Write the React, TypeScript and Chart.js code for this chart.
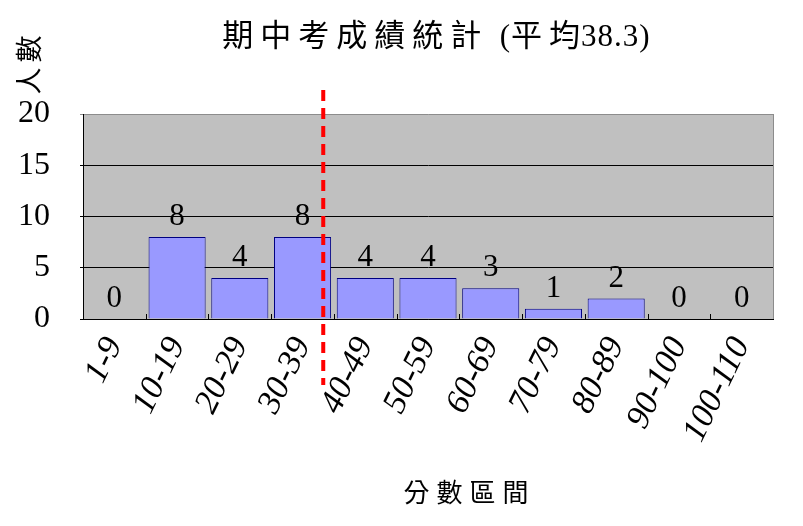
import React, { useEffect, useRef } from "react";
import { Chart, registerables } from "chart.js";

Chart.register(...registerables);

const categories = ["1-9", "10-19", "20-29", "30-39", "40-49", "50-59", "60-69", "70-79", "80-89", "90-100", "100-110"];
const counts = [0, 8, 4, 8, 4, 4, 3, 1, 2, 0, 0];
const yMin = 0;
const yMax = 20;
const yStep = 5;
const meanScore = 38.3;
const binSize = 10;
const titleParts = [
  { text: "期中考成績統計", cjk: true },
  { text: "  (", cjk: false },
  { text: "平均", cjk: true },
  { text: "38.3)", cjk: false },
];
const yTitle = "人數";
const xTitle = "分數區間";

const SERIF = "'Liberation Serif', 'Noto Sans CJK TC', serif";

function spacedWidth(ctx: CanvasRenderingContext2D, text: string, sp: number) {
  let w = 0;
  for (const ch of text) w += ctx.measureText(ch).width + sp;
  return w - sp;
}
function drawSpaced(ctx: CanvasRenderingContext2D, text: string, x: number, y: number, sp: number) {
  let cx = x;
  for (const ch of text) {
    ctx.fillText(ch, cx, y);
    cx += ctx.measureText(ch).width + sp;
  }
  return cx - sp;
}

const decorPlugin = {
  id: "decor",
  beforeDraw(chart: any) {
    const { ctx, chartArea } = chart;
    ctx.save();
    ctx.fillStyle = "#ffffff";
    ctx.fillRect(0, 0, chart.width, chart.height);
    ctx.fillStyle = "#c0c0c0";
    ctx.fillRect(chartArea.left, chartArea.top, chartArea.right - chartArea.left, chartArea.bottom - chartArea.top);
    ctx.restore();
  },
  afterDatasetsDraw(chart: any) {
    const { ctx, chartArea } = chart;
    const xs = chart.scales.x;
    const meta = chart.getDatasetMeta(0);
    ctx.save();
    // right border
    ctx.strokeStyle = "#8c8c8c";
    ctx.lineWidth = 1;
    ctx.beginPath();
    ctx.moveTo(chartArea.right + 0.5, chartArea.top);
    ctx.lineTo(chartArea.right + 0.5, chartArea.bottom);
    ctx.stroke();
    // inner category ticks
    ctx.strokeStyle = "#000";
    const half = (xs.getPixelForValue(1) - xs.getPixelForValue(0)) / 2;
    for (let i = 1; i < categories.length; i++) {
      const px = Math.round(xs.getPixelForValue(i) - half) + 0.5;
      ctx.beginPath();
      ctx.moveTo(px, chartArea.bottom);
      ctx.lineTo(px, chartArea.bottom - 5);
      ctx.stroke();
    }
    // data labels
    ctx.fillStyle = "#000";
    ctx.font = `31px ${SERIF}`;
    ctx.textAlign = "center";
    ctx.textBaseline = "alphabetic";
    meta.data.forEach((bar: any, i: number) => {
      ctx.fillText(String(counts[i]), bar.x, bar.y - 12);
    });
    // mean line
    const idx = meanScore / binSize - 0.5;
    const mx = xs.getPixelForValue(idx);
    ctx.strokeStyle = "#ff0000";
    ctx.lineWidth = 4;
    ctx.setLineDash([11, 7]);
    ctx.beginPath();
    ctx.moveTo(mx, chartArea.top - 24);
    ctx.lineTo(mx, chartArea.bottom + 66);
    ctx.stroke();
    ctx.setLineDash([]);
    ctx.restore();
  },
  afterDraw(chart: any) {
    const { ctx } = chart;
    ctx.save();
    ctx.fillStyle = "#000";
    ctx.textAlign = "left";
    ctx.textBaseline = "middle";
    // title
    ctx.font = `31px ${SERIF}`;
    const sp = (p: any) => (p.cjk ? 7 : 1);
    let total = 0;
    titleParts.forEach((p, i) => {
      total += spacedWidth(ctx, p.text, sp(p)) + (i < titleParts.length - 1 ? 1 : 0);
    });
    let x = 436 - total / 2;
    titleParts.forEach((p) => {
      x = drawSpaced(ctx, p.text, x, 38, sp(p)) + 1;
    });
    // x title
    ctx.font = `26px ${SERIF}`;
    const xw = spacedWidth(ctx, xTitle, 7);
    drawSpaced(ctx, xTitle, 466 - xw / 2, 495, 7);
    // y title
    ctx.translate(32, 65);
    ctx.rotate(-Math.PI / 2);
    ctx.font = `27px ${SERIF}`;
    const yw = spacedWidth(ctx, yTitle, 5);
    drawSpaced(ctx, yTitle, -yw / 2, 0, 5);
    ctx.restore();
  },
};

export default function App() {
  const ref = useRef<HTMLCanvasElement | null>(null);
  useEffect(() => {
    if (!ref.current) return;
    const chart = new Chart(ref.current, {
      type: "bar",
      data: {
        labels: categories,
        datasets: [
          {
            data: counts,
            backgroundColor: "#9999ff",
            borderColor: "#000080",
            borderWidth: 1,
            barPercentage: 0.91,
            categoryPercentage: 1,
          },
        ],
      },
      options: {
        responsive: false,
        animation: false,
        events: [],
        layout: { padding: { top: 114, right: 30, left: 0, bottom: 0 } },
        plugins: { legend: { display: false }, title: { display: false }, tooltip: { enabled: false } },
        scales: {
          x: {
            grid: { display: false, drawTicks: false },
            border: { display: true, color: "#000", width: 1 },
            ticks: {
              color: "#000",
              font: { family: SERIF, size: 34, style: "italic" },
              minRotation: 64,
              maxRotation: 64,
              padding: 12,
              autoSkip: false,
            },
            afterFit: (s: any) => {
              s.height = 207;
              s.paddingLeft = 0;
              s.paddingRight = 0;
            },
          },
          y: {
            min: yMin,
            max: yMax,
            grid: {
              color: (c: any) => (c.tick && c.tick.value === yMax ? "#8c8c8c" : "#000"),
              lineWidth: 1,
              tickLength: 3,
            },
            border: { display: true, color: "#000", width: 1 },
            ticks: {
              stepSize: yStep,
              color: "#000",
              padding: 30,
              font: { family: SERIF, size: 32 },
            },
            afterFit: (s: any) => {
              s.width = 83;
              s.paddingTop = 0;
              s.paddingBottom = 0;
            },
          },
        },
      },
      plugins: [decorPlugin],
    });
    return () => chart.destroy();
  }, []);
  return (
    <div style={{ position: "fixed", left: 0, top: 0, width: 803, height: 526, background: "#fff" }}>
      <canvas ref={ref} width={803} height={526} style={{ display: "block", width: 803, height: 526 }} />
    </div>
  );
}
